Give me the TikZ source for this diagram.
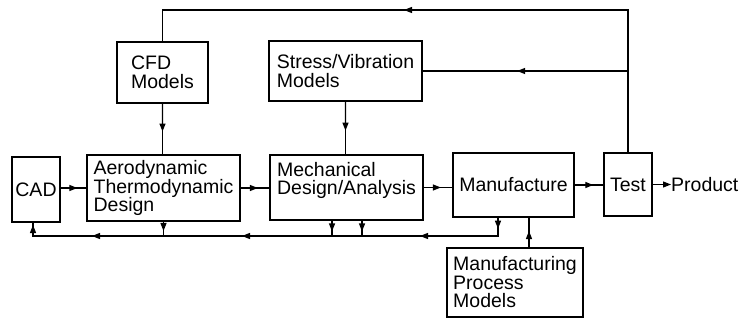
\documentclass[tikz,border=0pt]{standalone}
\usepackage{fontspec}
\setmainfont{Liberation Sans}
\usetikzlibrary{arrows.meta,calc}
\begin{document}
\begin{tikzpicture}[x=1pt,y=-1pt,
  >={Triangle[length=8pt,width=6pt]},
  box/.style={draw,line width=1.4pt,align=left,inner sep=0pt,font=\fontsize{19.5}{18.5}\selectfont},
  flow/.style={line width=1.3pt},
  arr/.style={line width=1.3pt,->}
]
\useasboundingbox (0,0) rectangle (741,321);

\node[box,minimum width=48pt,minimum height=65pt,align=center] (cad) at (36,189.5) {CAD};
\node[box,minimum width=153pt,minimum height=66pt] (aero) at (163.5,188) {Aerodynamic\\Thermodynamic\\Design};
\node[box,minimum width=153pt,minimum height=65pt] (mech) at (346.5,187.5) {Mechanical\\Design/Analysis\\[-6pt]\strut};
\node[box,minimum width=121pt,minimum height=64pt] (manu) at (513.5,185) {Manufacture};
\node[box,minimum width=48pt,minimum height=63pt,align=center] (test) at (628,184.5) {Test};
\node[box,minimum width=91pt,minimum height=61pt] (cfd) at (162.5,72.5) {CFD\\Models};
\node[box,minimum width=153pt,minimum height=60pt] (stress) at (345.5,71) {Stress/Vibration\\Models};
\node[box,minimum width=136pt,minimum height=69pt] (mpm) at (515,282.5) {Manufacturing\\Process\\Models};
\node[font=\fontsize{19.5}{18.5}\selectfont,anchor=west,inner sep=0pt] (prod) at (671,185) {Product};

\coordinate (topy) at (0,10);
\coordinate (bus) at (0,236);

% main chain
\draw[flow] (cad.east |- aero.west) -- (aero.west);
\draw[arr] (cad.east |- aero.west) -- ($(cad.east |- aero.west)!0.65!(aero.west)$);
\draw[flow] (aero.east) -- (aero.east -| mech.west);
\draw[arr] (aero.east) -- ($(aero.east)!0.6!(aero.east -| mech.west)$);
\draw[flow] (mech.east) -- (mech.east -| manu.west);
\draw[arr] (mech.east) -- ($(mech.east)!0.6!(mech.east -| manu.west)$);
\draw[flow] (manu.east) -- (manu.east -| test.west);
\draw[arr] (manu.east) -- ($(manu.east)!0.65!(manu.east -| test.west)$);
\draw[arr] (test.east) -- (test.east -| prod.west);

% models into design
\draw[flow] (cfd.south) -- (cfd.south |- aero.north);
\draw[arr] (cfd.south) -- ($(cfd.south)!0.55!(cfd.south |- aero.north)$);
\draw[flow] (stress.south) -- (stress.south |- mech.north);
\draw[arr] (stress.south) -- ($(stress.south)!0.55!(stress.south |- mech.north)$);
\coordinate (mp1) at ([xshift=14pt]mpm.north);
\coordinate (mp2) at (mp1 |- manu.south);
\draw[flow] (mp1) -- (mp2);
\draw[arr] (mp1) -- ($(mp1)!0.55!(mp2)$);

% test feedback
\coordinate (t1) at (test.north |- topy);
\coordinate (t2) at (cfd.north |- topy);
\draw[flow] (test.north) -- (t1) -- (t2) -- (cfd.north);
\draw[arr] (t1) -- ($(t1)+(-224,0)$);
\coordinate (s1) at (test.north |- stress.east);
\draw[flow] (s1) -- (stress.east);
\draw[arr] (s1) -- ($(s1)!0.54!(stress.east)$);

% bus back to CAD
\coordinate (m0) at ([xshift=-15.5pt]manu.south);
\coordinate (b1) at (m0 |- bus);
\coordinate (c0) at ([xshift=-3pt]cad.south);
\coordinate (b2) at (c0 |- bus);
\draw[flow] (m0) -- (b1) -- (b2) -- (c0);
\draw[arr] (m0) -- ($(m0)+(0,11)$);
\draw[arr] (b1) -- ($(b1)+(-78,0)$);
\draw[arr] (b1) -- ($(b1)+(-256,0)$);
\draw[arr] (b1) -- ($(b1)+(-406,0)$);
\draw[arr] (b2) -- ($(b2)+(0,-11)$);

\coordinate (a0) at (aero.south);
\coordinate (a1) at (a0 |- bus);
\draw[flow] (a0) -- (a1);
\draw[arr] (a0) -- ($(a0)!0.65!(a1)$);
\coordinate (ma0) at ([xshift=-14.5pt]mech.south);
\coordinate (ma1) at (ma0 |- bus);
\draw[flow] (ma0) -- (ma1);
\draw[arr] (ma0) -- ($(ma0)!0.7!(ma1)$);
\coordinate (mb0) at ([xshift=15.5pt]mech.south);
\coordinate (mb1) at (mb0 |- bus);
\draw[flow] (mb0) -- (mb1);
\draw[arr] (mb0) -- ($(mb0)!0.7!(mb1)$);
\end{tikzpicture}
\end{document}
